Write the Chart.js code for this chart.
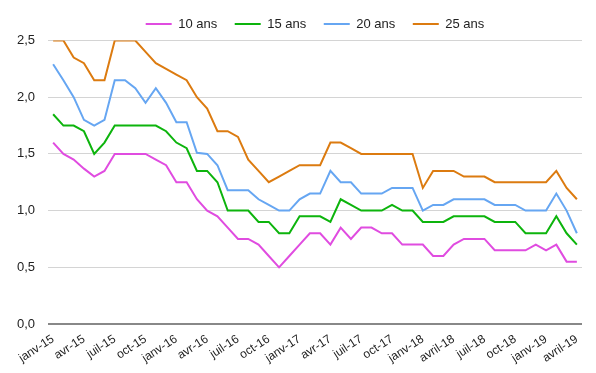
<!DOCTYPE html>
<html>
<head>
<meta charset="utf-8">
<script src="https://cdn.jsdelivr.net/npm/chart.js@4"></script>
<style>
  html, body { margin: 0; padding: 0; background: #fff; }
  #wrap { width: 596px; height: 373px; position: relative; }
</style>
</head>
<body>
<div id="wrap"><canvas id="chartTaux"></canvas></div>
<script>
// Mois (janv-15 -> avril-19)
const mois = [
  'janv-15', 'févr-15', 'mars-15', 'avr-15', 'mai-15', 'juin-15', 'juil-15', 'août-15', 'sept-15', 'oct-15', 'nov-15', 'déc-15',
  'janv-16', 'févr-16', 'mars-16', 'avr-16', 'mai-16', 'juin-16', 'juil-16', 'août-16', 'sept-16', 'oct-16', 'nov-16', 'déc-16',
  'janv-17', 'févr-17', 'mars-17', 'avr-17', 'mai-17', 'juin-17', 'juil-17', 'août-17', 'sept-17', 'oct-17', 'nov-17', 'déc-17',
  'janv-18', 'févr-18', 'mars-18', 'avril-18', 'mai-18', 'juin-18', 'juil-18', 'août-18', 'sept-18', 'oct-18', 'nov-18', 'déc-18',
  'janv-19', 'févr-19', 'mars-19', 'avril-19'
];

// Taux par durée (%)
const taux10 = [
  1.6, 1.5, 1.45, 1.37, 1.3, 1.35, 1.5, 1.5, 1.5, 1.5, 1.45, 1.4,
  1.25, 1.25, 1.1, 1.0, 0.95, 0.85, 0.75, 0.75, 0.7, 0.6, 0.5, 0.6,
  0.7, 0.8, 0.8, 0.7, 0.85, 0.75, 0.85, 0.85, 0.8, 0.8, 0.7, 0.7,
  0.7, 0.6, 0.6, 0.7, 0.75, 0.75, 0.75, 0.65, 0.65, 0.65, 0.65, 0.7,
  0.65, 0.7, 0.55, 0.55
];
const taux15 = [
  1.85, 1.75, 1.75, 1.7, 1.5, 1.6, 1.75, 1.75, 1.75, 1.75, 1.75, 1.7,
  1.6, 1.55, 1.35, 1.35, 1.25, 1.0, 1.0, 1.0, 0.9, 0.9, 0.8, 0.8,
  0.95, 0.95, 0.95, 0.9, 1.1, 1.05, 1.0, 1.0, 1.0, 1.05, 1.0, 1.0,
  0.9, 0.9, 0.9, 0.95, 0.95, 0.95, 0.95, 0.9, 0.9, 0.9, 0.8, 0.8,
  0.8, 0.95, 0.8, 0.7
];
const taux20 = [
  2.29, 2.15, 2.0, 1.8, 1.75, 1.8, 2.15, 2.15, 2.08, 1.95, 2.08, 1.95,
  1.78, 1.78, 1.51, 1.5, 1.4, 1.18, 1.18, 1.18, 1.1, 1.05, 1.0, 1.0,
  1.1, 1.15, 1.15, 1.35, 1.25, 1.25, 1.15, 1.15, 1.15, 1.2, 1.2, 1.2,
  1.0, 1.05, 1.05, 1.1, 1.1, 1.1, 1.1, 1.05, 1.05, 1.05, 1.0, 1.0,
  1.0, 1.15, 1.0, 0.8
];
const taux25 = [
  2.5, 2.5, 2.35, 2.3, 2.15, 2.15, 2.5, 2.5, 2.5, 2.4, 2.3, 2.25,
  2.2, 2.15, 2.0, 1.9, 1.7, 1.7, 1.65, 1.45, 1.35, 1.25, 1.3, 1.35,
  1.4, 1.4, 1.4, 1.6, 1.6, 1.55, 1.5, 1.5, 1.5, 1.5, 1.5, 1.5,
  1.2, 1.35, 1.35, 1.35, 1.3, 1.3, 1.3, 1.25, 1.25, 1.25, 1.25, 1.25,
  1.25, 1.35, 1.2, 1.1
];

const FONT = '"Liberation Sans", Arial, sans-serif';

function serie(label, data, couleur) {
    return {
        label: label,
        data: data,
        borderColor: couleur,
        backgroundColor: couleur,
        borderWidth: 2,
        pointRadius: 0,
        tension: 0,
        fill: false
    };
}

const ctx = document.getElementById('chartTaux').getContext('2d');

new Chart(ctx, {
    type: 'line',
    data: {
        labels: mois,
        datasets: [
            serie('10 ans', taux10, '#e04ce0'),
            serie('15 ans', taux15, '#0db40d'),
            serie('20 ans', taux20, '#66a6f2'),
            serie('25 ans', taux25, '#dc7b10')
        ]
    },
    options: {
        responsive: true,
        maintainAspectRatio: false,
        animation: false,
        layout: { padding: { left: 0, right: 14, top: 0, bottom: 0 } },
        plugins: {
            tooltip: { enabled: false },
            legend: {
                position: 'top',
                fullSize: false,
                labels: {
                    boxWidth: 26,
                    boxHeight: 0,
                    padding: 17.5,
                    color: '#222',
                    font: { family: FONT, size: 13 }
                }
            }
        },
        scales: {
            x: {
                offset: true,
                grid: { display: false, drawTicks: false },
                border: { display: false },
                afterFit: scale => { scale.height = 49; },
                ticks: {
                    autoSkip: false,
                    minRotation: 33,
                    maxRotation: 33,
                    padding: 8,
                    color: '#222',
                    font: { family: FONT, size: 12 },
                    callback: function (val, i) {
                        // une étiquette par trimestre
                        return i % 3 === 0 ? mois[i] : '';
                    }
                }
            },
            y: {
                min: 0,
                max: 2.5,
                border: { display: false },
                afterFit: scale => { scale.width = 48; },
                grid: {
                    drawTicks: false,
                    color: c => c.tick && c.tick.value === 0 ? '#888' : '#d4d4d4',
                    lineWidth: c => c.tick && c.tick.value === 0 ? 2 : 1
                },
                ticks: {
                    stepSize: 0.5,
                    padding: 13,
                    color: '#222',
                    font: { family: FONT, size: 13 },
                    callback: v => v.toFixed(1).replace('.', ',')
                }
            }
        }
    }
});
</script>
</body>
</html>
